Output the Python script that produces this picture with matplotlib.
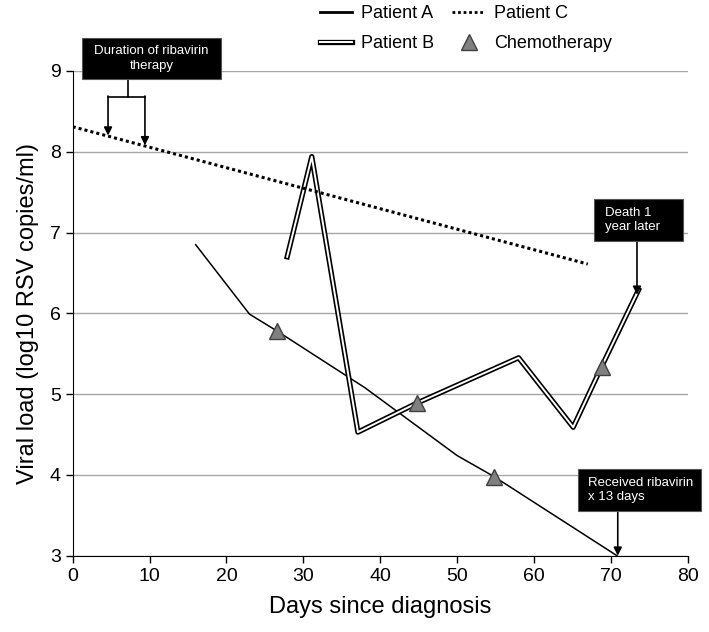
import matplotlib
matplotlib.use("Agg")
import matplotlib.pyplot as plt
import matplotlib.patheffects as pe
from matplotlib.lines import Line2D
from matplotlib.patches import Rectangle

plt.rcParams['font.family'] = ['Liberation Sans', 'DejaVu Sans']

# Patient A (single line)
a_days = [16, 23, 26.6, 38, 50, 54.8, 70.8]
a_load = [6.85, 5.99, 5.78, 5.08, 4.24, 3.98, 3.0]

# Patient B (double line)
b_days = [27.9, 31.1, 37.1, 44.8, 58.0, 65.1, 68.8, 73.6]
b_load = [6.70, 7.94, 4.53, 4.89, 5.45, 4.59, 5.34, 6.29]

# Patient C (dotted)
c_days = [0, 67]
c_load = [8.31, 6.61]

# chemotherapy markers
chemo_days = [26.6, 44.8, 54.8, 68.8]
chemo_load = [5.78, 4.89, 3.98, 5.34]

double = [pe.Stroke(linewidth=3.8, foreground='black'), pe.Normal()]

fig = plt.figure(figsize=(7.09, 6.32), dpi=100)
ax = fig.add_axes([0.1025, 0.1207, 0.8675, 0.767])

ax.set_xlim(0, 80)
ax.set_ylim(3, 9)
ax.set_xticks(range(0, 81, 10))
ax.set_yticks(range(3, 10))
ax.grid(axis='y', color='#a6a6a6', linewidth=1.0)
ax.set_axisbelow(True)
for s in ['top', 'right']:
    ax.spines[s].set_visible(False)
ax.tick_params(axis='both', direction='out', length=5, width=1, labelsize=14)

ax.plot(a_days, a_load, color='black', lw=1.1, zorder=3)
ax.plot(b_days, b_load, color='white', lw=1.4, zorder=3, solid_joinstyle='round',
        path_effects=double)
ax.plot(c_days, c_load, color='black', lw=2.2, linestyle=(0, (1, 1)), zorder=3)
ax.plot(chemo_days, chemo_load, linestyle='none', marker='^', markersize=12,
        markerfacecolor='#808080', markeredgecolor='#404040', markeredgewidth=1, zorder=4)

ax.set_xlabel('Days since diagnosis', fontsize=17, labelpad=8)
ax.set_ylabel('Viral load (log10 RSV copies/ml)', fontsize=17, labelpad=8)


def note_box(x0, x1, y0, y1, tx, txt, ha):
    ax.add_patch(Rectangle((x0, y0), x1 - x0, y1 - y0, facecolor='black',
                           edgecolor='#555555', lw=0.8, clip_on=False, zorder=5))
    ax.text(tx, (y0 + y1) / 2, txt, color='white', fontsize=9.5, ha=ha, va='center',
            clip_on=False, zorder=6, linespacing=1.25)


def arrow(x, y_from, y_to):
    ax.annotate('', xy=(x, y_to), xytext=(x, y_from), annotation_clip=False,
                arrowprops=dict(arrowstyle='-|>', color='black', lw=1.2,
                                mutation_scale=12, shrinkA=0, shrinkB=0))


# annotation boxes
note_box(1.2, 19.3, 8.9, 9.41, 10.25, 'Duration of ribavirin\ntherapy', 'center')
ax.plot([7.2, 7.2], [8.9, 8.68], color='black', lw=1.2, clip_on=False)
ax.plot([4.6, 9.4], [8.68, 8.68], color='black', lw=1.2)
arrow(4.6, 8.69, 8.2)
arrow(9.4, 8.69, 8.08)

note_box(67.8, 79.4, 6.9, 7.42, 69.2, 'Death 1\nyear later', 'left')
arrow(73.4, 6.9, 6.23)

note_box(65.7, 81.7, 3.55, 4.07, 67.0, 'Received ribavirin\nx 13 days', 'left')
arrow(70.9, 3.55, 3.0)

# legend
h_a = Line2D([], [], color='black', lw=2)
h_b = Line2D([], [], color='white', lw=1.4, path_effects=double)
h_c = Line2D([], [], color='black', lw=2, linestyle=(0, (1, 1)))
h_t = Line2D([], [], linestyle='none', marker='^', markersize=12,
             markerfacecolor='#808080', markeredgecolor='#404040')
fig.legend([h_a, h_b, h_c, h_t], ['Patient A', 'Patient B', 'Patient C', 'Chemotherapy'],
           ncol=2, loc='upper left', bbox_to_anchor=(0.428, 1.018), frameon=False,
           fontsize=13, handlelength=1.8, handletextpad=0.5, columnspacing=1.0, labelspacing=0.75)

fig.savefig('out.png', dpi=100)
